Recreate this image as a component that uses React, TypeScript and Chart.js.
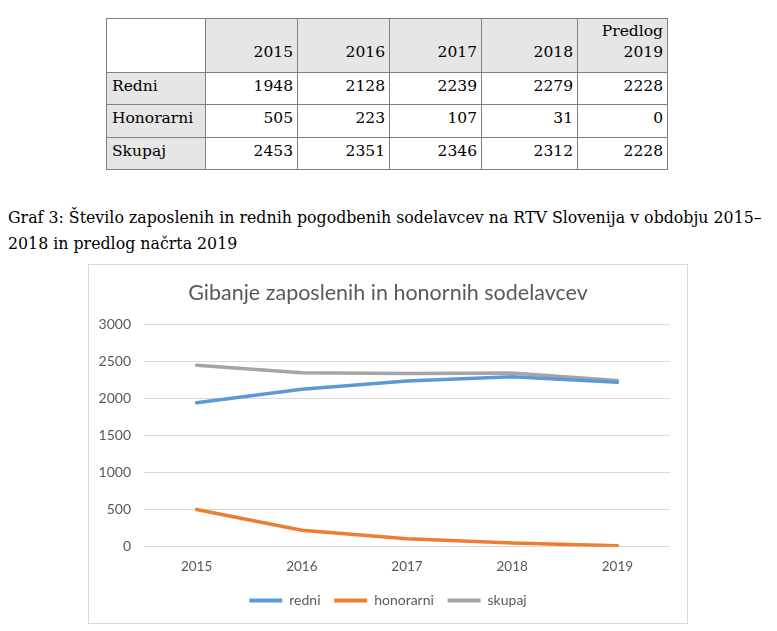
import React, { useEffect, useRef } from "react";
import { Chart, registerables } from "chart.js";

Chart.register(...registerables);

// Table data
const tableHeaders = ["2015", "2016", "2017", "2018", "Predlog\n2019"];
const tableRowLabels = ["Redni", "Honorarni", "Skupaj"];
const tableRedni = [1948, 2128, 2239, 2279, 2228];
const tableHonorarni = [505, 223, 107, 31, 0];
const tableSkupaj = [2453, 2351, 2346, 2312, 2228];

// Chart data (as drawn)
const categories = ["2015", "2016", "2017", "2018", "2019"];
const seriesNames = ["redni", "honorarni", "skupaj"];
const redni = [1948, 2128, 2239, 2297, 2223];
const honorarni = [505, 223, 110, 50, 14];
const skupaj = [2453, 2351, 2343, 2348, 2246];
const yTicks = [0, 500, 1000, 1500, 2000, 2500, 3000];

const captionLine1 = "Graf 3: Število zaposlenih in rednih pogodbenih sodelavcev na RTV Slovenija v obdobju 2015–";
const captionLine2 = "2018 in predlog načrta 2019";
const chartTitle = "Gibanje zaposlenih in honornih sodelavcev";

const colWidths = [99, 92, 92, 92, 96, 90];
const rowHeights = [32, 33, 32];

const serif = "'DejaVu Serif', serif";
const sans = "Lato, 'Open Sans', sans-serif";

function ChartBox() {
  const ref = useRef<HTMLCanvasElement | null>(null);
  useEffect(() => {
    if (!ref.current) return;
    const colors = ["#5B9BD5", "#ED7D31", "#A5A5A5"];
    const values = [redni, honorarni, skupaj];
    const chart = new Chart(ref.current, {
      type: "line",
      data: {
        labels: categories,
        datasets: seriesNames.map((name, i) => ({
          label: name,
          data: values[i],
          borderColor: colors[i],
          backgroundColor: colors[i],
          borderWidth: 3.5,
          pointRadius: 0,
          tension: 0,
          borderCapStyle: "round" as const,
        })),
      },
      options: {
        animation: false,
        responsive: false,
        maintainAspectRatio: false,
        layout: { padding: { left: 0, right: 0, top: 0, bottom: 5.5 } },
        plugins: {
          title: {
            display: true,
            text: chartTitle,
            color: "#595959",
            font: { family: sans, size: 21.5, weight: "normal" },
            padding: { top: 15, bottom: 19 },
          },
          legend: {
            position: "bottom",
            labels: {
              color: "#595959",
              font: { family: sans, size: 14 },
              boxWidth: 33,
              boxHeight: 4,
              padding: 6.5,
              generateLabels: (c: any) =>
                Chart.defaults.plugins.legend.labels.generateLabels(c).map((l: any, i: number, arr: any[]) => ({
                  ...l,
                  text: i < arr.length - 1 ? l.text + "  " : l.text,
                  lineWidth: 0,
                  strokeStyle: "transparent",
                })),
            },
          },
          tooltip: { enabled: false },
        },
        scales: {
          x: {
            offset: true,
            grid: { display: false, drawTicks: false, offset: true },
            border: { display: false },
            ticks: { color: "#595959", font: { family: sans, size: 13.5 }, padding: 12 },
          },
          y: {
            min: 0,
            max: 3000,
            afterBuildTicks: (s: any) => {
              s.ticks = yTicks.map((v) => ({ value: v }));
            },
            afterFit: (s: any) => {
              s.width = 55;
            },
            grid: { color: "#D9D9D9", drawTicks: false, lineWidth: 1 },
            border: { display: false },
            ticks: {
              color: "#595959",
              font: { family: sans, size: 14 },
              padding: 13,
              callback: (v: any) => String(v),
            },
          },
          yRight: {
            position: "right",
            display: true,
            min: 0,
            max: 3000,
            grid: { display: false, drawTicks: false },
            border: { display: false },
            ticks: { display: false },
            afterFit: (s: any) => {
              s.width = 17;
            },
          },
        },
      },
    } as any);
    return () => chart.destroy();
  }, []);
  return (
    <div
      style={{
        position: "absolute",
        left: 88,
        top: 264,
        width: 600,
        height: 360,
        border: "1px solid #D9D9D9",
        boxSizing: "border-box",
        background: "#fff",
      }}
    >
      <canvas ref={ref} width={598} height={358} style={{ display: "block" }} />
    </div>
  );
}

export default function App() {
  const rows = [tableRedni, tableHonorarni, tableSkupaj];
  const cellBorder = "1px solid #7F7F7F";
  return (
    <div style={{ position: "absolute", left: 0, top: 0, width: 777, height: 631, background: "#fff", overflow: "hidden" }}>
      <table
        style={{
          position: "absolute",
          left: 106,
          top: 18,
          borderCollapse: "collapse",
          tableLayout: "fixed",
          fontFamily: serif,
          fontSize: 15.5,
          color: "#000",
        }}
      >
        <colgroup>
          {colWidths.map((w, i) => (
            <col key={i} style={{ width: w }} />
          ))}
        </colgroup>
        <tbody>
          <tr style={{ height: 54 }}>
            <td style={{ border: cellBorder, background: "#fff" }} />
            {tableHeaders.map((h, i) => (
              <td
                key={i}
                style={{
                  border: cellBorder,
                  background: "#E7E6E6",
                  textAlign: "right",
                  verticalAlign: "bottom",
                  padding: "0 4px 9px 0",
                  lineHeight: "21px",
                  whiteSpace: "pre-line",
                }}
              >
                {h}
              </td>
            ))}
          </tr>
          {rows.map((r, ri) => (
            <tr key={ri} style={{ height: rowHeights[ri] }}>
              <td
                style={{
                  border: cellBorder,
                  background: "#E7E6E6",
                  padding: "2.5px 0 0 5px",
                  lineHeight: "20px",
                  verticalAlign: "top",
                }}
              >
                {tableRowLabels[ri]}
              </td>
              {r.map((v, i) => (
                <td
                  key={i}
                  style={{
                    border: cellBorder,
                    textAlign: "right",
                    padding: "2.5px 4px 0 0",
                    lineHeight: "20px",
                    verticalAlign: "top",
                  }}
                >
                  {v}
                </td>
              ))}
            </tr>
          ))}
        </tbody>
      </table>
      <div
        style={{
          position: "absolute",
          left: 8,
          top: 205,
          fontFamily: serif,
          fontSize: 15.8,
          lineHeight: "26px",
          color: "#000",
          whiteSpace: "nowrap",
        }}
      >
        <div>{captionLine1}</div>
        <div>{captionLine2}</div>
      </div>
      <ChartBox />
    </div>
  );
}
